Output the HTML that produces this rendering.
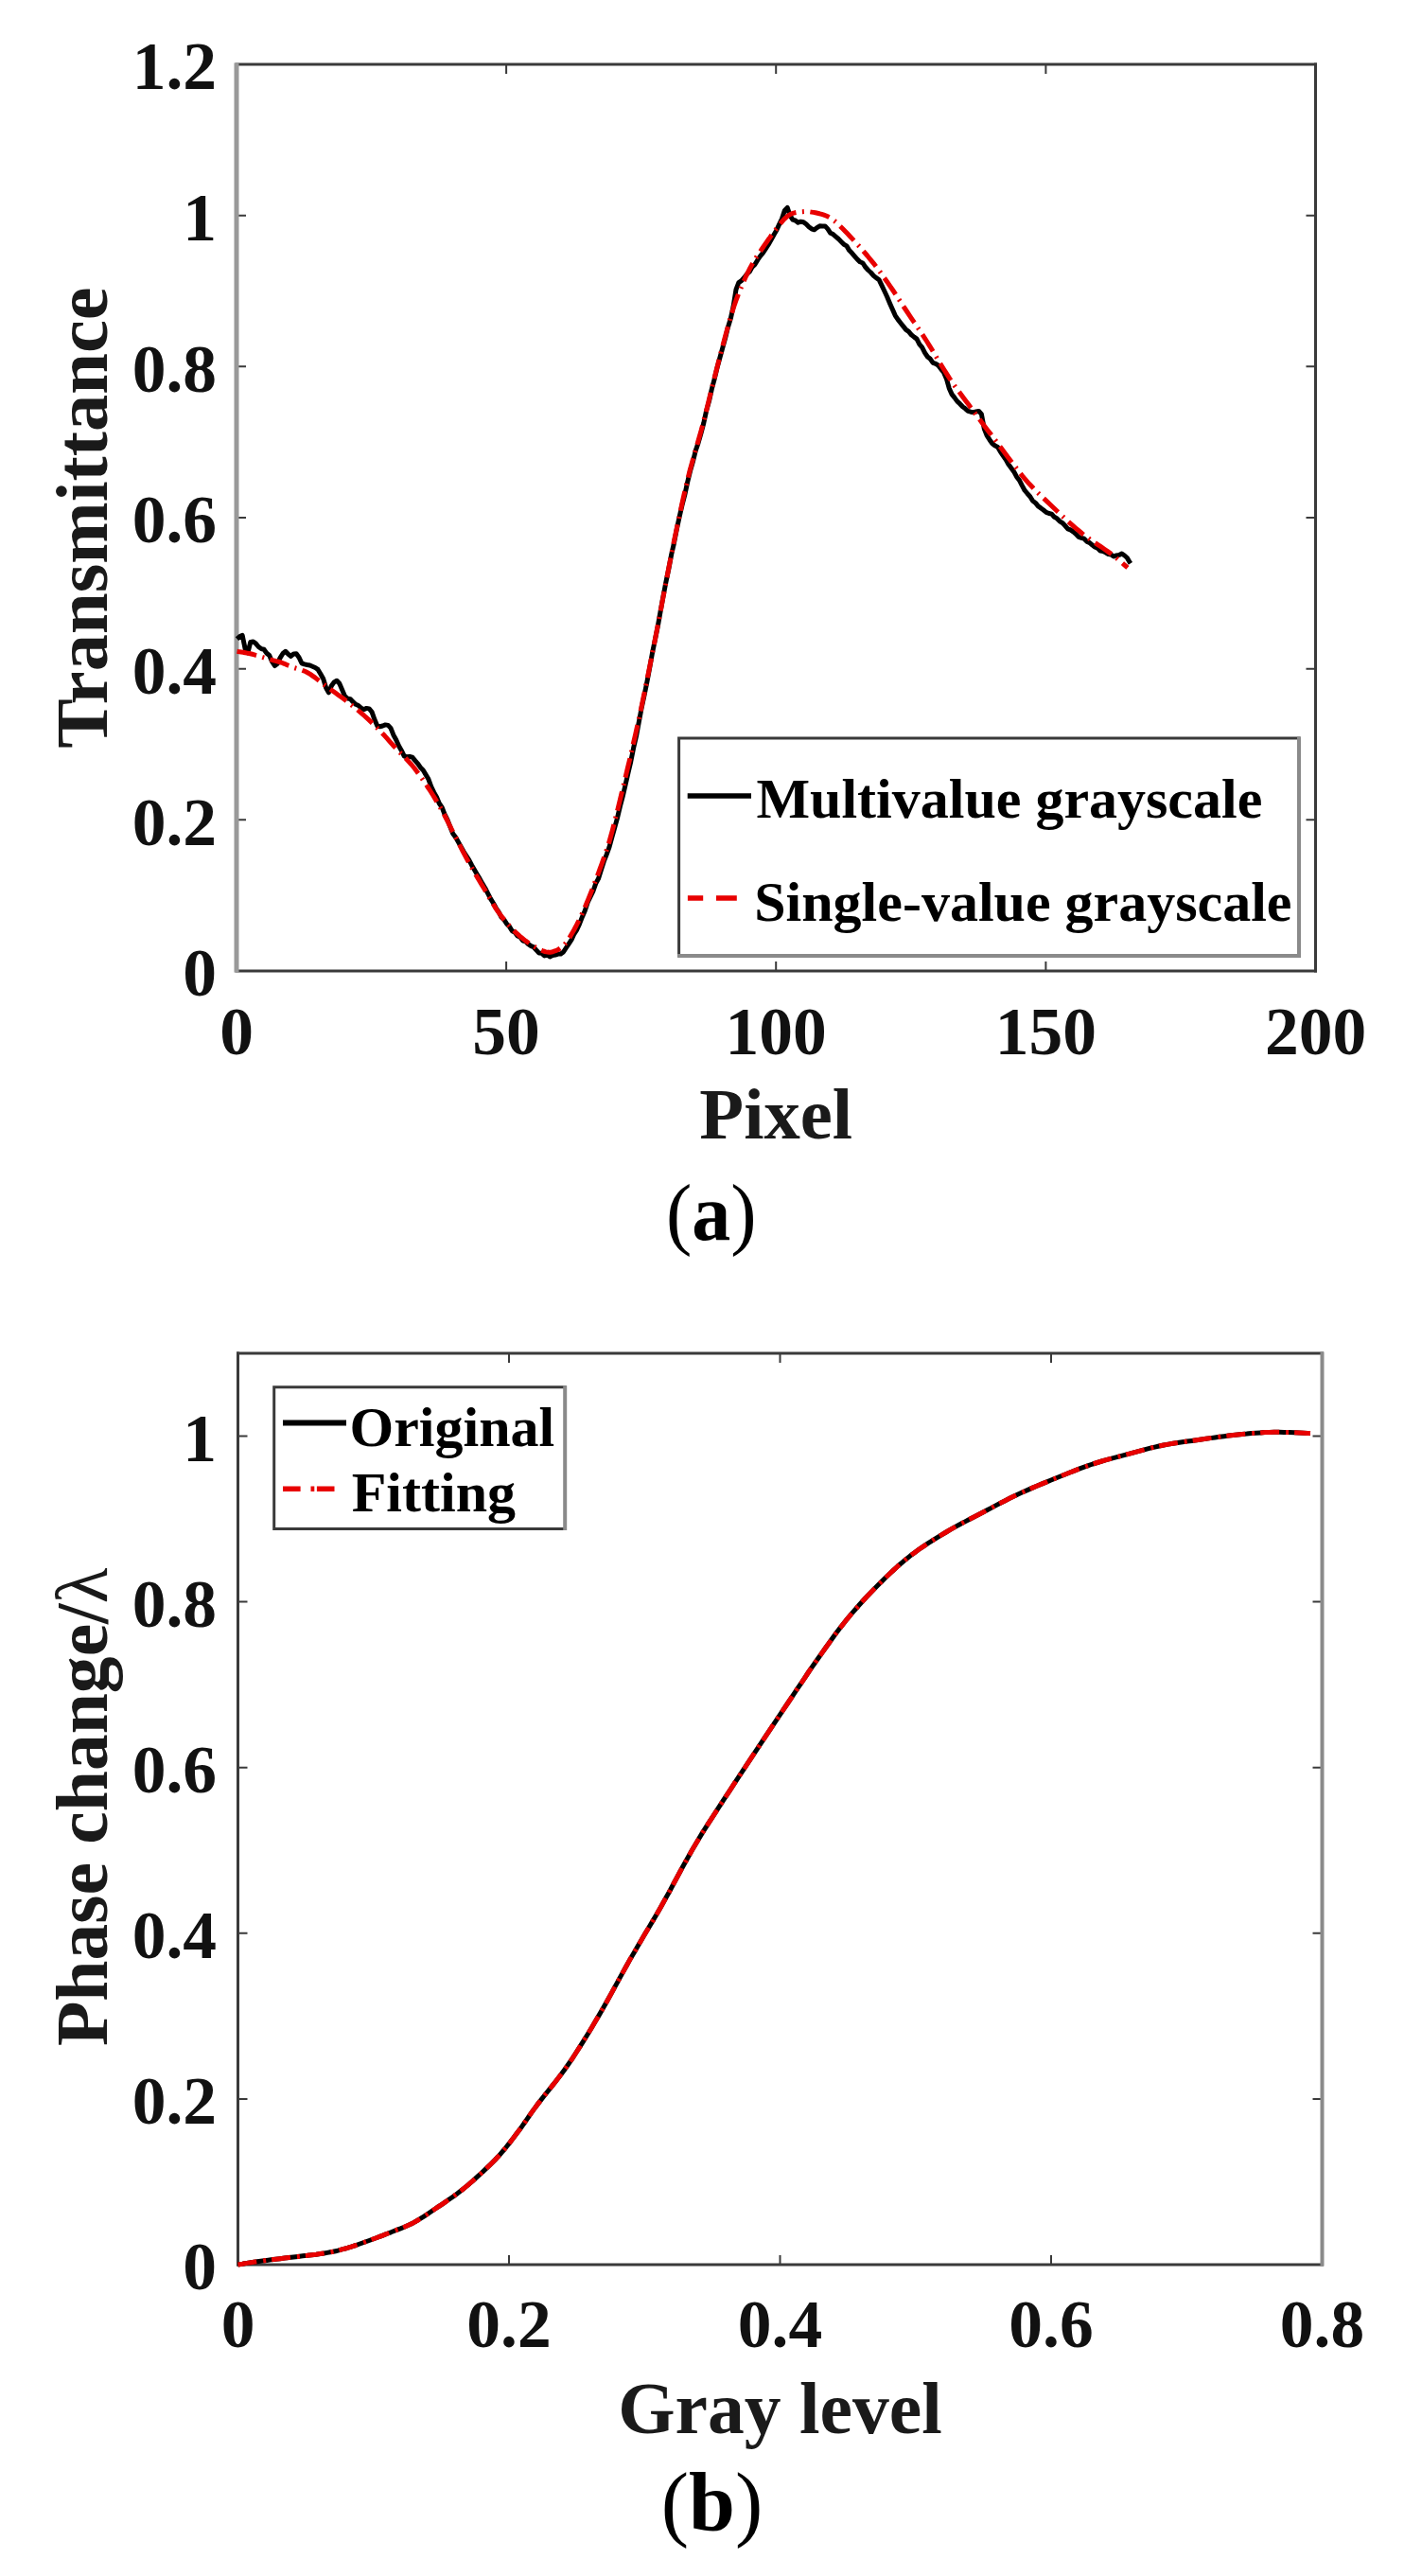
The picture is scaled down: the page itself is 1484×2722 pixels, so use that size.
<!DOCTYPE html>
<html><head><meta charset="utf-8"><style>
html,body{margin:0;padding:0;background:#fff;}
svg{display:block;}
</style></head><body>
<svg width="1484" height="2722" viewBox="0 0 1484 2722" font-family='"Liberation Serif", serif'>
<rect width="1484" height="2722" fill="#fff"/>
<path d="M250.0 1026.0 v-10 M250.0 68.0 v10" stroke="#3a3a3a" stroke-width="2" fill="none"/>
<path d="M535.1 1026.0 v-10 M535.1 68.0 v10" stroke="#3a3a3a" stroke-width="2" fill="none"/>
<path d="M820.2 1026.0 v-10 M820.2 68.0 v10" stroke="#3a3a3a" stroke-width="2" fill="none"/>
<path d="M1105.4 1026.0 v-10 M1105.4 68.0 v10" stroke="#3a3a3a" stroke-width="2" fill="none"/>
<path d="M1390.5 1026.0 v-10 M1390.5 68.0 v10" stroke="#3a3a3a" stroke-width="2" fill="none"/>
<path d="M250.0 1026.0 h10 M1390.5 1026.0 h-10" stroke="#3a3a3a" stroke-width="2" fill="none"/>
<path d="M250.0 866.3 h10 M1390.5 866.3 h-10" stroke="#3a3a3a" stroke-width="2" fill="none"/>
<path d="M250.0 706.7 h10 M1390.5 706.7 h-10" stroke="#3a3a3a" stroke-width="2" fill="none"/>
<path d="M250.0 547.0 h10 M1390.5 547.0 h-10" stroke="#3a3a3a" stroke-width="2" fill="none"/>
<path d="M250.0 387.3 h10 M1390.5 387.3 h-10" stroke="#3a3a3a" stroke-width="2" fill="none"/>
<path d="M250.0 227.7 h10 M1390.5 227.7 h-10" stroke="#3a3a3a" stroke-width="2" fill="none"/>
<path d="M250.0 68.0 h10 M1390.5 68.0 h-10" stroke="#3a3a3a" stroke-width="2" fill="none"/>
<path d="M248.5 68.0 H1392.0 M248.5 1026.0 H1392.0" stroke="#3a3a3a" stroke-width="3" fill="none"/>
<path d="M250.0 66.5 V1027.5" stroke="#999" stroke-width="5" fill="none"/>
<path d="M1390.5 66.5 V1027.5" stroke="#3a3a3a" stroke-width="3" fill="none"/>
<path d="M250.5 675.2 L253.4 672.6 256.2 671.4 259.1 685.5 261.9 689.8 264.8 678.4 267.6 677.9 270.5 680.1 273.3 683.5 276.2 685.6 279.0 686.3 281.9 690.2 284.7 692.5 287.6 699.2 290.4 703.5 293.3 701.2 296.1 695.1 299.0 690.5 301.8 688.3 304.7 691.3 307.5 693.4 310.4 690.9 313.2 690.8 316.1 694.8 318.9 700.8 321.8 701.9 324.6 702.5 327.5 703.0 330.3 704.2 333.2 705.5 336.0 707.4 338.9 712.3 341.7 717.3 344.6 726.8 347.4 731.9 350.3 724.8 353.1 720.9 356.0 719.2 358.8 722.3 361.7 728.9 364.5 735.6 367.4 738.1 370.3 738.6 373.1 741.7 376.0 744.3 378.8 745.5 381.7 748.1 384.5 749.7 387.4 748.4 390.2 748.9 393.1 752.4 395.9 760.3 398.8 767.0 401.6 767.7 404.5 767.0 407.3 765.9 410.2 766.4 413.0 769.4 415.9 776.7 418.7 781.7 421.6 788.2 424.4 793.2 427.3 799.1 430.1 799.8 433.0 799.4 435.8 800.1 438.7 803.6 441.5 806.8 444.4 810.9 447.2 813.8 450.1 818.6 452.9 823.3 455.8 831.4 458.6 837.2 461.5 842.2 464.3 849.0 467.2 853.2 470.0 860.5 472.9 866.1 475.7 873.3 478.6 880.7 481.5 884.5 484.3 889.4 487.2 894.6 490.0 899.8 492.9 904.3 495.7 908.6 498.6 914.2 501.4 919.1 504.3 924.0 507.1 928.6 510.0 933.9 512.8 938.5 515.7 944.1 518.5 949.6 521.4 954.3 524.2 959.3 527.1 963.6 529.9 969.2 532.8 971.9 535.6 976.2 538.5 979.1 541.3 983.7 544.2 985.2 547.0 988.9 549.9 990.2 552.7 994.1 555.6 994.9 558.4 997.7 561.3 999.6 564.1 1000.8 567.0 1004.1 569.8 1007.1 572.7 1007.3 575.5 1009.9 578.4 1009.2 581.2 1010.9 584.1 1009.5 586.9 1009.1 589.8 1008.1 592.7 1008.1 595.5 1006.0 598.4 1001.5 601.2 997.3 604.1 992.9 606.9 986.8 609.8 982.3 612.6 976.2 615.5 968.7 618.3 962.2 621.2 953.5 624.0 947.7 626.9 941.7 629.7 933.6 632.6 928.2 635.4 919.3 638.3 910.2 641.1 903.1 644.0 895.2 646.8 884.8 649.7 874.6 652.5 864.4 655.4 852.1 658.2 841.7 661.1 829.1 663.9 816.9 666.8 804.6 669.6 790.4 672.5 778.0 675.3 763.0 678.2 747.6 681.0 734.7 683.9 720.6 686.7 705.6 689.6 689.4 692.4 676.1 695.3 661.8 698.1 646.0 701.0 630.1 703.8 615.5 706.7 601.8 709.6 586.3 712.4 574.1 715.3 559.2 718.1 546.2 721.0 533.6 723.8 522.9 726.7 509.4 729.5 497.8 732.4 487.8 735.2 476.4 738.1 467.9 740.9 458.0 743.8 447.0 746.6 434.1 749.5 423.9 752.3 411.1 755.2 400.3 758.0 388.6 760.9 378.0 763.7 367.8 766.6 357.3 769.4 345.9 772.3 336.6 775.1 323.9 778.0 305.8 780.8 298.6 783.7 296.7 786.5 293.5 789.4 289.7 792.2 287.2 795.1 282.0 797.9 279.6 800.8 274.7 803.6 270.6 806.5 267.1 809.3 262.8 812.2 258.4 815.0 253.5 817.9 248.2 820.8 243.3 823.6 237.1 826.5 231.1 829.3 222.4 832.2 219.4 835.0 227.6 837.9 232.2 840.7 233.0 843.6 235.2 846.4 234.2 849.3 234.8 852.1 236.8 855.0 239.7 857.8 241.8 860.7 242.8 863.5 240.6 866.4 238.8 869.2 239.0 872.1 238.9 874.9 241.9 877.8 246.3 880.6 247.6 883.5 250.1 886.3 252.5 889.2 255.4 892.0 258.3 894.9 259.9 897.7 264.6 900.6 267.6 903.4 270.9 906.3 274.2 909.1 276.8 912.0 278.0 914.8 282.3 917.7 285.5 920.5 288.0 923.4 291.3 926.2 293.7 929.1 295.6 931.9 301.4 934.8 307.5 937.7 313.8 940.5 320.5 943.4 327.1 946.2 333.3 949.1 337.6 951.9 341.2 954.8 344.9 957.6 348.4 960.5 350.4 963.3 353.8 966.2 356.1 969.0 358.1 971.9 363.9 974.7 367.2 977.6 372.9 980.4 377.0 983.3 379.3 986.1 383.4 989.0 384.4 991.8 386.2 994.7 390.1 997.5 393.5 1000.4 400.2 1003.2 410.2 1006.1 416.6 1008.9 420.1 1011.8 424.1 1014.6 426.7 1017.5 429.8 1020.3 431.8 1023.2 434.4 1026.0 435.2 1028.9 435.7 1031.7 435.0 1034.6 434.4 1037.4 437.6 1040.3 453.0 1043.1 460.1 1046.0 464.7 1048.9 468.8 1051.7 470.9 1054.6 472.5 1057.4 477.3 1060.3 481.5 1063.1 485.6 1066.0 490.8 1068.8 494.5 1071.7 498.4 1074.5 503.7 1077.4 507.4 1080.2 512.9 1083.1 518.2 1085.9 521.5 1088.8 524.7 1091.6 529.3 1094.5 531.4 1097.3 534.9 1100.2 536.9 1103.0 539.0 1105.9 541.4 1108.7 542.5 1111.6 543.1 1114.4 546.3 1117.3 547.9 1120.1 550.8 1123.0 552.6 1125.8 555.5 1128.7 558.8 1131.5 559.9 1134.4 561.9 1137.2 564.2 1140.1 567.4 1142.9 568.3 1145.8 569.2 1148.6 572.1 1151.5 573.4 1154.3 575.7 1157.2 577.9 1160.0 579.1 1162.9 582.1 1165.8 582.4 1168.6 583.8 1171.5 585.6 1174.3 585.9 1177.2 588.0 1180.0 586.9 1182.9 586.4 1185.7 585.0 1188.6 587.0 1191.4 589.5 1194.3 594.4 1194.9 595.3" stroke="#000" stroke-width="5" fill="none" stroke-linejoin="round"/>
<path d="M250.5 688.3 L251.7 688.5 L253.2 688.7 L255.0 689.0 L257.0 689.3 L259.1 689.7 L261.3 690.1 L263.5 690.5 L265.6 691.0 L267.7 691.5 L269.8 692.2 L272.0 692.8 L274.2 693.5 L276.4 694.2 L278.6 694.9 L280.7 695.6 L282.7 696.2 L284.6 696.7 L286.5 697.2 L288.4 697.7 L290.2 698.1 L292.0 698.6 L293.7 699.0 L295.4 699.5 L297.0 700.0 L298.5 700.5 L299.9 701.1 L301.2 701.6 L302.5 702.2 L303.8 702.8 L305.2 703.4 L306.7 704.0 L308.4 704.7 L310.2 705.4 L312.2 706.0 L314.2 706.6 L316.4 707.2 L318.6 707.9 L320.9 708.8 L323.2 709.8 L325.5 711.0 L327.9 712.4 L330.3 714.1 L332.9 715.9 L335.4 717.9 L338.0 719.9 L340.7 722.0 L343.3 724.0 L346.0 726.0 L348.7 728.0 L351.5 730.0 L354.4 732.1 L357.3 734.2 L360.2 736.3 L363.0 738.3 L365.7 740.4 L368.2 742.3 L370.6 744.2 L372.8 745.9 L375.0 747.7 L377.1 749.4 L379.1 751.1 L381.1 752.8 L383.2 754.6 L385.3 756.5 L387.4 758.4 L389.6 760.4 L391.7 762.4 L393.9 764.5 L396.0 766.5 L398.1 768.7 L400.3 770.8 L402.4 773.0 L404.5 775.3 L406.7 777.6 L408.8 779.9 L410.9 782.3 L413.1 784.8 L415.2 787.2 L417.4 789.6 L419.5 791.9 L421.6 794.2 L423.8 796.3 L425.9 798.5 L428.1 800.6 L430.2 802.8 L432.3 805.1 L434.5 807.5 L436.6 810.0 L438.8 812.7 L440.9 815.6 L443.1 818.6 L445.3 821.6 L447.5 824.7 L449.6 827.9 L451.7 831.0 L453.7 834.0 L455.6 837.0 L457.5 840.0 L459.4 843.1 L461.2 846.1 L463.0 849.1 L464.7 852.1 L466.4 855.1 L468.0 858.0 L469.5 860.8 L470.9 863.5 L472.2 866.0 L473.5 868.6 L474.8 871.3 L476.2 874.0 L477.6 876.9 L479.2 880.0 L480.9 883.4 L482.8 887.0 L484.7 890.8 L486.7 894.7 L488.7 898.6 L490.8 902.5 L492.8 906.3 L494.8 910.0 L496.8 913.5 L498.7 917.0 L500.7 920.4 L502.6 923.8 L504.6 927.1 L506.6 930.4 L508.5 933.7 L510.5 937.0 L512.5 940.3 L514.4 943.7 L516.4 947.1 L518.4 950.5 L520.3 953.8 L522.3 957.0 L524.2 960.1 L526.2 963.0 L528.2 965.7 L530.1 968.4 L532.1 970.9 L534.0 973.3 L535.9 975.6 L537.9 977.8 L539.8 979.9 L541.8 982.0 L543.8 984.0 L545.7 985.9 L547.7 987.7 L549.6 989.4 L551.6 991.0 L553.6 992.6 L555.5 994.1 L557.5 995.5 L559.5 996.9 L561.5 998.2 L563.6 999.5 L565.6 1000.8 L567.7 1001.9 L569.6 1002.9 L571.5 1003.8 L573.2 1004.5 L574.8 1005.1 L576.2 1005.6 L577.6 1005.9 L578.9 1006.1 L580.2 1006.2 L581.5 1006.2 L582.8 1006.0 L584.2 1005.7 L585.7 1005.2 L587.2 1004.7 L588.8 1004.0 L590.4 1003.2 L591.9 1002.2 L593.5 1001.0 L595.1 999.6 L596.7 998.0 L598.3 996.1 L599.9 994.0 L601.5 991.6 L603.0 989.0 L604.6 986.3 L606.2 983.6 L607.7 980.8 L609.2 978.0 L610.6 975.2 L612.0 972.5 L613.4 969.6 L614.7 966.8 L616.0 963.8 L617.4 960.7 L618.8 957.4 L620.2 954.0 L621.7 950.4 L623.2 946.7 L624.8 942.8 L626.4 938.8 L627.9 934.7 L629.5 930.5 L631.1 926.3 L632.7 922.0 L634.2 917.8 L635.7 913.8 L637.2 909.7 L638.7 905.6 L640.2 901.2 L641.8 896.4 L643.5 891.0 L645.2 885.0 L647.1 878.2 L649.0 870.8 L651.0 862.9 L653.1 854.5 L655.2 845.9 L657.3 837.1 L659.4 828.4 L661.5 819.7 L663.5 811.1 L665.6 802.5 L667.6 793.7 L669.6 784.9 L671.7 775.9 L673.7 766.8 L675.8 757.5 L677.8 748.0 L679.8 738.3 L681.9 728.4 L683.9 718.3 L686.0 708.0 L688.1 697.7 L690.1 687.3 L692.2 676.8 L694.2 666.4 L696.2 655.9 L698.3 645.2 L700.3 634.4 L702.4 623.6 L704.4 612.8 L706.4 602.2 L708.5 591.8 L710.5 581.6 L712.5 571.6 L714.6 561.8 L716.6 552.0 L718.7 542.5 L720.7 533.1 L722.7 524.0 L724.8 515.1 L726.8 506.6 L728.8 498.5 L730.9 490.9 L732.9 483.7 L734.9 476.6 L736.9 469.7 L738.9 462.7 L741.0 455.4 L743.0 447.9 L745.0 440.0 L747.1 431.9 L749.1 423.6 L751.2 415.2 L753.2 406.9 L755.3 398.6 L757.4 390.5 L759.4 382.6 L761.4 374.8 L763.5 367.0 L765.5 359.3 L767.6 351.7 L769.6 344.3 L771.6 337.1 L773.7 330.4 L775.7 324.0 L777.7 318.1 L779.8 312.5 L781.8 307.3 L783.9 302.4 L785.9 297.7 L787.9 293.2 L790.0 288.9 L792.0 284.8 L794.1 280.9 L796.1 277.2 L798.2 273.7 L800.3 270.5 L802.4 267.4 L804.4 264.4 L806.4 261.5 L808.3 258.7 L810.2 256.0 L812.0 253.3 L813.8 250.9 L815.5 248.5 L817.2 246.2 L818.8 244.0 L820.4 242.0 L822.0 240.0 L823.5 238.1 L824.9 236.3 L826.2 234.7 L827.5 233.1 L828.8 231.6 L830.2 230.3 L831.5 229.1 L832.9 228.0 L834.3 227.1 L835.8 226.3 L837.2 225.7 L838.7 225.2 L840.2 224.8 L841.8 224.5 L843.4 224.2 L845.0 224.0 L846.7 223.8 L848.4 223.7 L850.2 223.6 L852.0 223.6 L853.9 223.6 L855.8 223.8 L857.8 224.1 L859.8 224.4 L861.9 224.8 L864.1 225.3 L866.3 225.8 L868.6 226.4 L870.9 227.1 L873.2 228.0 L875.5 229.1 L877.8 230.4 L880.0 231.9 L882.1 233.5 L884.3 235.3 L886.4 237.3 L888.5 239.4 L890.8 241.7 L893.2 244.2 L895.7 246.8 L898.4 249.7 L901.4 252.9 L904.5 256.3 L907.7 259.8 L910.9 263.4 L914.0 267.0 L917.0 270.5 L919.7 273.8 L922.2 276.9 L924.5 279.7 L926.6 282.5 L928.7 285.2 L930.7 288.0 L932.8 291.0 L935.1 294.2 L937.6 297.7 L940.3 301.7 L943.3 306.0 L946.4 310.7 L949.5 315.5 L952.7 320.3 L955.8 325.0 L958.8 329.5 L961.5 333.6 L964.0 337.3 L966.3 340.7 L968.4 343.8 L970.5 346.9 L972.6 349.9 L974.7 353.1 L977.0 356.6 L979.5 360.5 L982.2 364.8 L985.1 369.5 L988.0 374.5 L991.1 379.6 L994.2 384.7 L997.3 389.8 L1000.4 394.7 L1003.4 399.4 L1006.4 403.8 L1009.3 408.0 L1012.2 412.0 L1015.2 416.0 L1018.1 420.0 L1021.1 424.0 L1024.2 428.1 L1027.3 432.3 L1030.5 436.6 L1033.8 441.0 L1037.1 445.4 L1040.4 449.9 L1043.8 454.4 L1047.3 458.9 L1050.8 463.5 L1054.3 468.2 L1057.9 473.0 L1061.6 477.9 L1065.3 483.0 L1069.1 488.0 L1072.9 493.0 L1076.7 497.9 L1080.4 502.6 L1084.2 507.1 L1087.9 511.3 L1091.7 515.3 L1095.4 519.1 L1099.2 522.8 L1102.9 526.4 L1106.6 529.9 L1110.4 533.5 L1114.1 537.0 L1117.8 540.5 L1121.6 544.1 L1125.3 547.6 L1129.0 551.0 L1132.8 554.4 L1136.5 557.7 L1140.3 560.8 L1144.0 563.9 L1147.8 566.8 L1151.8 569.7 L1155.7 572.5 L1159.7 575.1 L1163.6 577.7 L1167.3 580.2 L1170.7 582.6 L1173.9 584.9 L1176.8 587.2 L1179.7 589.4 L1182.3 591.6 L1184.8 593.7 L1187.0 595.6 L1188.9 597.3 L1190.6 598.7 L1191.9 599.8" stroke="#e80000" stroke-width="5" fill="none" stroke-dasharray="21 6.5 2 6.5" stroke-linejoin="round"/>
<text x="229" y="1052.3" font-size="71.5" font-weight="bold" text-anchor="end" fill="#111">0</text>
<text x="229" y="892.6" font-size="71.5" font-weight="bold" text-anchor="end" fill="#111">0.2</text>
<text x="229" y="733.0" font-size="71.5" font-weight="bold" text-anchor="end" fill="#111">0.4</text>
<text x="229" y="573.3" font-size="71.5" font-weight="bold" text-anchor="end" fill="#111">0.6</text>
<text x="229" y="413.6" font-size="71.5" font-weight="bold" text-anchor="end" fill="#111">0.8</text>
<text x="229" y="254.0" font-size="71.5" font-weight="bold" text-anchor="end" fill="#111">1</text>
<text x="229" y="94.3" font-size="71.5" font-weight="bold" text-anchor="end" fill="#111">1.2</text>
<text x="250.0" y="1113.8" font-size="71.5" font-weight="bold" text-anchor="middle" fill="#111">0</text>
<text x="535.1" y="1113.8" font-size="71.5" font-weight="bold" text-anchor="middle" fill="#111">50</text>
<text x="820.2" y="1113.8" font-size="71.5" font-weight="bold" text-anchor="middle" fill="#111">100</text>
<text x="1105.4" y="1113.8" font-size="71.5" font-weight="bold" text-anchor="middle" fill="#111">150</text>
<text x="1390.5" y="1113.8" font-size="71.5" font-weight="bold" text-anchor="middle" fill="#111">200</text>
<text x="820.25" y="1203.3" font-size="76.7" font-weight="bold" text-anchor="middle" fill="#1a1a1a">Pixel</text>
<text transform="translate(113,547) rotate(-90)" font-size="78.6" font-weight="bold" text-anchor="middle" fill="#1a1a1a">Transmittance</text>
<rect x="717.6" y="780" width="655.4" height="230" fill="#fff" stroke="none"/>
<path d="M717.6 778.5 V1011.5 M716.1 780 H1374.5" stroke="#3a3a3a" stroke-width="3" fill="none"/>
<path d="M1373 778.5 V1012 M716.1 1010 H1375" stroke="#8a8a8a" stroke-width="4" fill="none"/>
<path d="M726.7 841 H794" stroke="#000" stroke-width="5.5"/>
<path d="M726.9 949 H743.2 M757 949 H778.8" stroke="#e80000" stroke-width="5.5"/>
<text x="799.4" y="863.6" font-size="60" font-weight="bold" fill="#000">Multivalue grayscale</text>
<text x="797.2" y="972.6" font-size="60" font-weight="bold" fill="#000">Single-value grayscale</text>
<text x="704" y="1310.4" font-size="85.5" fill="#000" textLength="95.7" lengthAdjust="spacingAndGlyphs">(<tspan font-weight="bold">a</tspan>)</text>
<path d="M251.5 2393.0 v-10 M251.5 1430.0 v10" stroke="#3a3a3a" stroke-width="2" fill="none"/>
<path d="M538.0 2393.0 v-10 M538.0 1430.0 v10" stroke="#3a3a3a" stroke-width="2" fill="none"/>
<path d="M824.5 2393.0 v-10 M824.5 1430.0 v10" stroke="#3a3a3a" stroke-width="2" fill="none"/>
<path d="M1111.0 2393.0 v-10 M1111.0 1430.0 v10" stroke="#3a3a3a" stroke-width="2" fill="none"/>
<path d="M1397.5 2393.0 v-10 M1397.5 1430.0 v10" stroke="#3a3a3a" stroke-width="2" fill="none"/>
<path d="M251.5 2393.0 h10 M1397.5 2393.0 h-10" stroke="#3a3a3a" stroke-width="2" fill="none"/>
<path d="M251.5 2217.9 h10 M1397.5 2217.9 h-10" stroke="#3a3a3a" stroke-width="2" fill="none"/>
<path d="M251.5 2042.8 h10 M1397.5 2042.8 h-10" stroke="#3a3a3a" stroke-width="2" fill="none"/>
<path d="M251.5 1867.7 h10 M1397.5 1867.7 h-10" stroke="#3a3a3a" stroke-width="2" fill="none"/>
<path d="M251.5 1692.6 h10 M1397.5 1692.6 h-10" stroke="#3a3a3a" stroke-width="2" fill="none"/>
<path d="M251.5 1517.5 h10 M1397.5 1517.5 h-10" stroke="#3a3a3a" stroke-width="2" fill="none"/>
<path d="M250.0 1430.0 H1399.0 M250.0 2393.0 H1399.0" stroke="#3a3a3a" stroke-width="3" fill="none"/>
<path d="M251.5 1428.5 V2394.5" stroke="#3a3a3a" stroke-width="3" fill="none"/>
<path d="M1397.5 1428.5 V2394.5" stroke="#8a8a8a" stroke-width="4" fill="none"/>
<path d="M251.5 2393.0 L252.8 2392.8 L254.4 2392.5 L256.3 2392.2 L258.5 2391.8 L261.0 2391.4 L263.7 2390.9 L266.7 2390.5 L270.0 2390.0 L273.6 2389.5 L277.6 2389.0 L282.0 2388.4 L286.6 2387.8 L291.3 2387.3 L296.1 2386.7 L300.9 2386.1 L305.5 2385.5 L310.2 2384.9 L315.0 2384.4 L319.9 2383.8 L324.8 2383.3 L329.6 2382.7 L334.2 2382.2 L338.6 2381.6 L342.5 2381.0 L346.0 2380.4 L349.1 2379.8 L352.0 2379.3 L354.7 2378.7 L357.2 2378.1 L359.7 2377.4 L362.3 2376.7 L365.0 2376.0 L367.8 2375.2 L370.6 2374.3 L373.4 2373.4 L376.2 2372.5 L379.0 2371.5 L381.8 2370.5 L384.6 2369.5 L387.4 2368.5 L390.2 2367.5 L392.9 2366.5 L395.7 2365.5 L398.4 2364.5 L401.2 2363.4 L404.1 2362.3 L407.0 2361.2 L410.0 2360.0 L413.2 2358.8 L416.4 2357.5 L419.8 2356.2 L423.3 2354.9 L426.7 2353.5 L430.1 2352.0 L433.4 2350.5 L436.6 2348.9 L439.7 2347.2 L442.6 2345.5 L445.5 2343.7 L448.4 2341.9 L451.2 2340.0 L454.1 2338.0 L457.0 2336.0 L460.0 2334.0 L463.1 2331.9 L466.3 2329.8 L469.6 2327.6 L472.9 2325.3 L476.2 2323.0 L479.5 2320.7 L482.6 2318.4 L485.7 2316.1 L488.7 2313.8 L491.6 2311.4 L494.4 2309.1 L497.2 2306.7 L499.9 2304.3 L502.6 2301.9 L505.3 2299.4 L508.0 2297.0 L510.6 2294.6 L513.2 2292.1 L515.8 2289.7 L518.3 2287.3 L520.8 2284.8 L523.3 2282.2 L525.8 2279.6 L528.3 2276.8 L530.8 2273.9 L533.3 2271.0 L535.7 2268.0 L538.2 2264.9 L540.6 2261.7 L543.1 2258.5 L545.5 2255.3 L548.0 2252.0 L550.4 2248.8 L552.6 2245.6 L554.8 2242.5 L557.0 2239.3 L559.3 2236.0 L561.8 2232.4 L564.5 2228.6 L567.6 2224.4 L571.1 2219.9 L574.9 2215.0 L578.9 2210.0 L583.2 2204.7 L587.5 2199.2 L591.9 2193.5 L596.2 2187.7 L600.4 2181.8 L604.5 2175.8 L608.6 2169.5 L612.7 2163.2 L616.8 2156.6 L620.9 2150.0 L625.0 2143.2 L629.1 2136.3 L633.2 2129.4 L637.3 2122.3 L641.4 2115.0 L645.5 2107.6 L649.6 2100.1 L653.7 2092.6 L657.8 2085.1 L661.9 2077.7 L666.0 2070.4 L670.1 2063.4 L674.1 2056.5 L678.1 2049.8 L682.0 2043.1 L686.1 2036.3 L690.2 2029.4 L694.4 2022.2 L698.7 2014.7 L703.1 2006.8 L707.6 1998.7 L712.1 1990.3 L716.7 1981.7 L721.4 1973.0 L726.3 1964.3 L731.2 1955.5 L736.4 1946.7 L741.7 1937.9 L747.2 1929.1 L752.9 1920.3 L758.7 1911.4 L764.5 1902.4 L770.5 1893.3 L776.5 1884.1 L782.6 1874.9 L788.9 1865.3 L795.5 1855.3 L802.3 1845.1 L809.1 1834.8 L815.8 1824.8 L822.3 1815.2 L828.3 1806.2 L833.8 1798.0 L838.7 1790.7 L843.0 1784.2 L847.0 1778.3 L850.7 1772.8 L854.2 1767.5 L857.7 1762.4 L861.3 1757.3 L865.0 1752.0 L868.8 1746.6 L872.6 1741.2 L876.4 1736.0 L880.1 1730.8 L883.9 1725.6 L887.7 1720.6 L891.5 1715.7 L895.4 1710.8 L899.4 1706.0 L903.4 1701.4 L907.4 1696.8 L911.5 1692.3 L915.6 1687.8 L919.7 1683.5 L923.8 1679.2 L928.0 1675.0 L932.2 1670.9 L936.3 1666.8 L940.5 1662.8 L944.7 1658.9 L948.9 1655.0 L953.2 1651.3 L957.5 1647.7 L962.0 1644.1 L966.6 1640.7 L971.2 1637.3 L975.9 1634.1 L980.7 1630.9 L985.5 1627.9 L990.3 1624.9 L995.2 1621.9 L1000.0 1619.0 L1004.8 1616.2 L1009.7 1613.4 L1014.6 1610.7 L1019.6 1608.1 L1024.5 1605.5 L1029.4 1603.0 L1034.2 1600.5 L1039.0 1598.0 L1043.7 1595.5 L1048.3 1593.1 L1052.9 1590.6 L1057.4 1588.2 L1062.0 1585.9 L1066.6 1583.6 L1071.2 1581.3 L1076.0 1579.0 L1080.9 1576.8 L1085.8 1574.6 L1090.8 1572.4 L1095.8 1570.2 L1100.9 1568.1 L1105.9 1566.1 L1110.9 1564.0 L1115.9 1562.0 L1120.8 1560.0 L1125.8 1558.0 L1130.7 1556.0 L1135.6 1554.1 L1140.5 1552.2 L1145.3 1550.4 L1150.2 1548.7 L1155.0 1547.0 L1159.8 1545.5 L1164.6 1544.0 L1169.3 1542.7 L1174.0 1541.3 L1178.7 1540.1 L1183.4 1538.9 L1188.1 1537.6 L1192.8 1536.4 L1197.5 1535.1 L1202.1 1533.9 L1206.7 1532.6 L1211.3 1531.4 L1215.9 1530.2 L1220.5 1529.1 L1225.2 1528.0 L1230.0 1527.0 L1234.9 1526.1 L1239.8 1525.2 L1244.8 1524.5 L1249.8 1523.7 L1254.8 1523.0 L1259.8 1522.4 L1264.8 1521.7 L1269.7 1521.0 L1274.6 1520.3 L1279.4 1519.6 L1284.1 1519.0 L1288.9 1518.3 L1293.7 1517.7 L1298.4 1517.1 L1303.2 1516.5 L1308.0 1516.0 L1312.8 1515.5 L1317.7 1515.1 L1322.5 1514.6 L1327.4 1514.3 L1332.2 1513.9 L1337.0 1513.6 L1341.9 1513.4 L1346.7 1513.3 L1351.8 1513.3 L1357.2 1513.4 L1362.8 1513.5 L1368.3 1513.7 L1373.5 1514.0 L1378.1 1514.2 L1382.0 1514.4 L1385.0 1514.5" stroke="#000" stroke-width="5" fill="none" stroke-linejoin="round"/>
<path d="M251.5 2393.0 L252.8 2392.8 L254.4 2392.5 L256.3 2392.2 L258.5 2391.8 L261.0 2391.4 L263.7 2390.9 L266.7 2390.5 L270.0 2390.0 L273.6 2389.5 L277.6 2389.0 L282.0 2388.4 L286.6 2387.8 L291.3 2387.3 L296.1 2386.7 L300.9 2386.1 L305.5 2385.5 L310.2 2384.9 L315.0 2384.4 L319.9 2383.8 L324.8 2383.3 L329.6 2382.7 L334.2 2382.2 L338.6 2381.6 L342.5 2381.0 L346.0 2380.4 L349.1 2379.8 L352.0 2379.3 L354.7 2378.7 L357.2 2378.1 L359.7 2377.4 L362.3 2376.7 L365.0 2376.0 L367.8 2375.2 L370.6 2374.3 L373.4 2373.4 L376.2 2372.5 L379.0 2371.5 L381.8 2370.5 L384.6 2369.5 L387.4 2368.5 L390.2 2367.5 L392.9 2366.5 L395.7 2365.5 L398.4 2364.5 L401.2 2363.4 L404.1 2362.3 L407.0 2361.2 L410.0 2360.0 L413.2 2358.8 L416.4 2357.5 L419.8 2356.2 L423.3 2354.9 L426.7 2353.5 L430.1 2352.0 L433.4 2350.5 L436.6 2348.9 L439.7 2347.2 L442.6 2345.5 L445.5 2343.7 L448.4 2341.9 L451.2 2340.0 L454.1 2338.0 L457.0 2336.0 L460.0 2334.0 L463.1 2331.9 L466.3 2329.8 L469.6 2327.6 L472.9 2325.3 L476.2 2323.0 L479.5 2320.7 L482.6 2318.4 L485.7 2316.1 L488.7 2313.8 L491.6 2311.4 L494.4 2309.1 L497.2 2306.7 L499.9 2304.3 L502.6 2301.9 L505.3 2299.4 L508.0 2297.0 L510.6 2294.6 L513.2 2292.1 L515.8 2289.7 L518.3 2287.3 L520.8 2284.8 L523.3 2282.2 L525.8 2279.6 L528.3 2276.8 L530.8 2273.9 L533.3 2271.0 L535.7 2268.0 L538.2 2264.9 L540.6 2261.7 L543.1 2258.5 L545.5 2255.3 L548.0 2252.0 L550.4 2248.8 L552.6 2245.6 L554.8 2242.5 L557.0 2239.3 L559.3 2236.0 L561.8 2232.4 L564.5 2228.6 L567.6 2224.4 L571.1 2219.9 L574.9 2215.0 L578.9 2210.0 L583.2 2204.7 L587.5 2199.2 L591.9 2193.5 L596.2 2187.7 L600.4 2181.8 L604.5 2175.8 L608.6 2169.5 L612.7 2163.2 L616.8 2156.6 L620.9 2150.0 L625.0 2143.2 L629.1 2136.3 L633.2 2129.4 L637.3 2122.3 L641.4 2115.0 L645.5 2107.6 L649.6 2100.1 L653.7 2092.6 L657.8 2085.1 L661.9 2077.7 L666.0 2070.4 L670.1 2063.4 L674.1 2056.5 L678.1 2049.8 L682.0 2043.1 L686.1 2036.3 L690.2 2029.4 L694.4 2022.2 L698.7 2014.7 L703.1 2006.8 L707.6 1998.7 L712.1 1990.3 L716.7 1981.7 L721.4 1973.0 L726.3 1964.3 L731.2 1955.5 L736.4 1946.7 L741.7 1937.9 L747.2 1929.1 L752.9 1920.3 L758.7 1911.4 L764.5 1902.4 L770.5 1893.3 L776.5 1884.1 L782.6 1874.9 L788.9 1865.3 L795.5 1855.3 L802.3 1845.1 L809.1 1834.8 L815.8 1824.8 L822.3 1815.2 L828.3 1806.2 L833.8 1798.0 L838.7 1790.7 L843.0 1784.2 L847.0 1778.3 L850.7 1772.8 L854.2 1767.5 L857.7 1762.4 L861.3 1757.3 L865.0 1752.0 L868.8 1746.6 L872.6 1741.2 L876.4 1736.0 L880.1 1730.8 L883.9 1725.6 L887.7 1720.6 L891.5 1715.7 L895.4 1710.8 L899.4 1706.0 L903.4 1701.4 L907.4 1696.8 L911.5 1692.3 L915.6 1687.8 L919.7 1683.5 L923.8 1679.2 L928.0 1675.0 L932.2 1670.9 L936.3 1666.8 L940.5 1662.8 L944.7 1658.9 L948.9 1655.0 L953.2 1651.3 L957.5 1647.7 L962.0 1644.1 L966.6 1640.7 L971.2 1637.3 L975.9 1634.1 L980.7 1630.9 L985.5 1627.9 L990.3 1624.9 L995.2 1621.9 L1000.0 1619.0 L1004.8 1616.2 L1009.7 1613.4 L1014.6 1610.7 L1019.6 1608.1 L1024.5 1605.5 L1029.4 1603.0 L1034.2 1600.5 L1039.0 1598.0 L1043.7 1595.5 L1048.3 1593.1 L1052.9 1590.6 L1057.4 1588.2 L1062.0 1585.9 L1066.6 1583.6 L1071.2 1581.3 L1076.0 1579.0 L1080.9 1576.8 L1085.8 1574.6 L1090.8 1572.4 L1095.8 1570.2 L1100.9 1568.1 L1105.9 1566.1 L1110.9 1564.0 L1115.9 1562.0 L1120.8 1560.0 L1125.8 1558.0 L1130.7 1556.0 L1135.6 1554.1 L1140.5 1552.2 L1145.3 1550.4 L1150.2 1548.7 L1155.0 1547.0 L1159.8 1545.5 L1164.6 1544.0 L1169.3 1542.7 L1174.0 1541.3 L1178.7 1540.1 L1183.4 1538.9 L1188.1 1537.6 L1192.8 1536.4 L1197.5 1535.1 L1202.1 1533.9 L1206.7 1532.6 L1211.3 1531.4 L1215.9 1530.2 L1220.5 1529.1 L1225.2 1528.0 L1230.0 1527.0 L1234.9 1526.1 L1239.8 1525.2 L1244.8 1524.5 L1249.8 1523.7 L1254.8 1523.0 L1259.8 1522.4 L1264.8 1521.7 L1269.7 1521.0 L1274.6 1520.3 L1279.4 1519.6 L1284.1 1519.0 L1288.9 1518.3 L1293.7 1517.7 L1298.4 1517.1 L1303.2 1516.5 L1308.0 1516.0 L1312.8 1515.5 L1317.7 1515.1 L1322.5 1514.6 L1327.4 1514.3 L1332.2 1513.9 L1337.0 1513.6 L1341.9 1513.4 L1346.7 1513.3 L1351.8 1513.3 L1357.2 1513.4 L1362.8 1513.5 L1368.3 1513.7 L1373.5 1514.0 L1378.1 1514.2 L1382.0 1514.4 L1385.0 1514.5" stroke="#e80000" stroke-width="5" fill="none" stroke-dasharray="20 7 3 6" stroke-linejoin="round"/>
<text x="229" y="2419.3" font-size="71.5" font-weight="bold" text-anchor="end" fill="#111">0</text>
<text x="229" y="2244.2" font-size="71.5" font-weight="bold" text-anchor="end" fill="#111">0.2</text>
<text x="229" y="2069.1" font-size="71.5" font-weight="bold" text-anchor="end" fill="#111">0.4</text>
<text x="229" y="1894.0" font-size="71.5" font-weight="bold" text-anchor="end" fill="#111">0.6</text>
<text x="229" y="1718.9" font-size="71.5" font-weight="bold" text-anchor="end" fill="#111">0.8</text>
<text x="229" y="1543.8" font-size="71.5" font-weight="bold" text-anchor="end" fill="#111">1</text>
<text x="251.5" y="2479.8" font-size="71.5" font-weight="bold" text-anchor="middle" fill="#111">0</text>
<text x="538.0" y="2479.8" font-size="71.5" font-weight="bold" text-anchor="middle" fill="#111">0.2</text>
<text x="824.5" y="2479.8" font-size="71.5" font-weight="bold" text-anchor="middle" fill="#111">0.4</text>
<text x="1111.0" y="2479.8" font-size="71.5" font-weight="bold" text-anchor="middle" fill="#111">0.6</text>
<text x="1397.5" y="2479.8" font-size="71.5" font-weight="bold" text-anchor="middle" fill="#111">0.8</text>
<text x="824.5" y="2571.2" font-size="77.6" font-weight="bold" text-anchor="middle" fill="#1a1a1a">Gray level</text>
<text transform="translate(113.3,1909.4) rotate(-90)" font-size="77.6" font-weight="bold" text-anchor="middle" fill="#1a1a1a">Phase change/<tspan font-weight="normal">λ</tspan></text>
<rect x="289.7" y="1465.7" width="307.5" height="149.7" fill="#fff"/>
<path d="M289.7 1464.2 V1617 M288.2 1465.7 H598.7 M288.2 1615.4 H598.7" stroke="#3a3a3a" stroke-width="3" fill="none"/>
<path d="M597.2 1464.2 V1617" stroke="#8a8a8a" stroke-width="4" fill="none"/>
<path d="M299 1503.6 H366" stroke="#000" stroke-width="6"/>
<path d="M299 1573.3 H317.6 M328.5 1573.3 H332.3 M334.9 1573.3 H353.5" stroke="#e80000" stroke-width="5.5"/>
<text x="369.5" y="1527.5" font-size="60" font-weight="bold" fill="#000">Original</text>
<text x="371.7" y="1596.5" font-size="60" font-weight="bold" fill="#000">Fitting</text>
<text x="698.7" y="2673.6" font-size="88" fill="#000">(<tspan font-weight="bold">b</tspan>)</text>
</svg>
</body></html>
